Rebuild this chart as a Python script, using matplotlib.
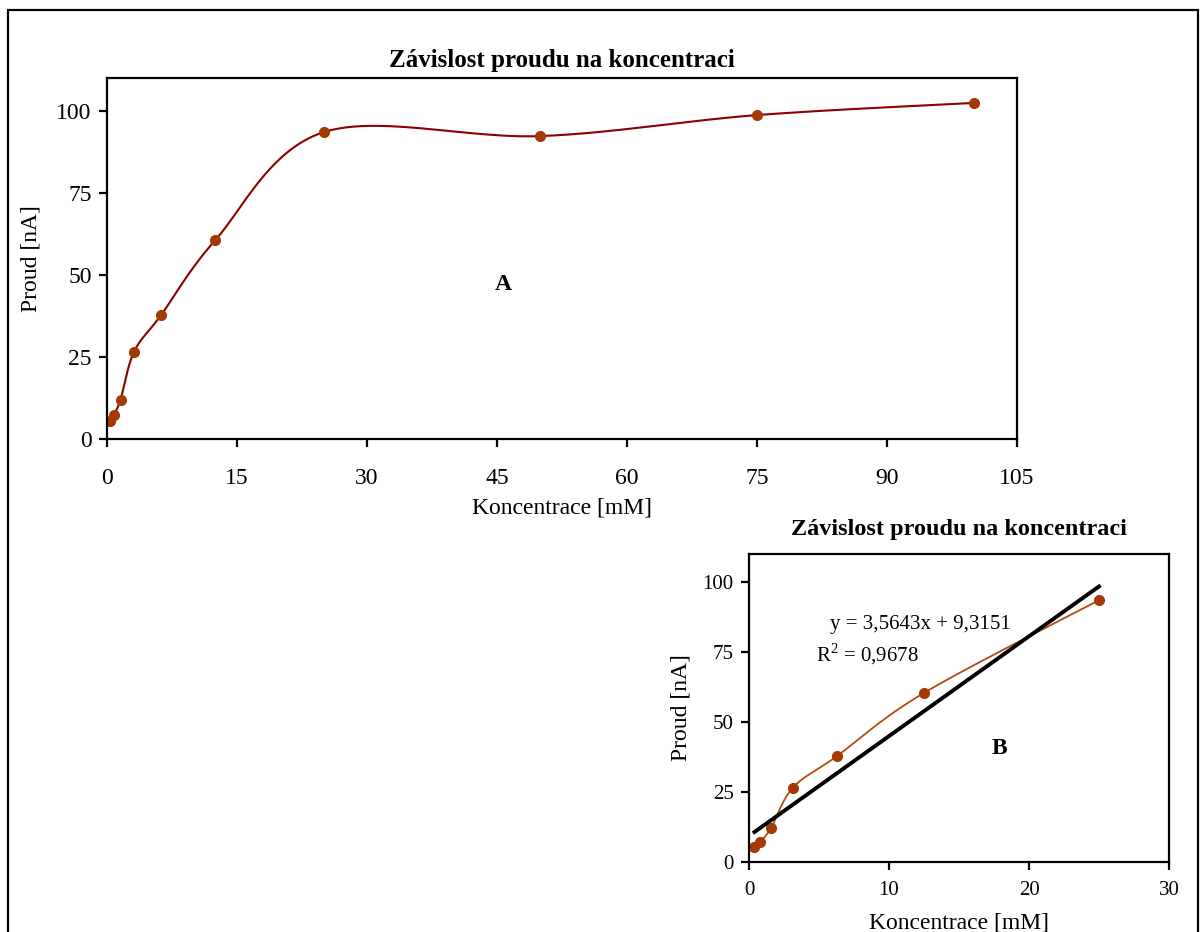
import numpy as np
import matplotlib
matplotlib.use("Agg")
import matplotlib.pyplot as plt
from matplotlib.patches import Rectangle

# data
konc = [0.39, 0.78, 1.56, 3.125, 6.25, 12.5, 25, 50, 75, 100]
proud = [5.4, 7.3, 12.0, 26.6, 37.8, 60.6, 93.5, 92.3, 98.7, 102.4]

konc_b = [0.39, 0.78, 1.56, 3.125, 6.25, 12.5, 25]
proud_b = [5.4, 7.2, 12.0, 26.5, 37.7, 60.4, 93.5]

slope = 3.5643
intercept = 9.3151
r2 = 0.9678

title = "Závislost proudu na koncentraci"
xlab = "Koncentrace [mM]"
ylab = "Proud [nA]"

plt.rcParams["font.family"] = ["Liberation Serif", "DejaVu Serif"]
plt.rcParams["mathtext.fontset"] = "custom"
plt.rcParams["mathtext.rm"] = "Liberation Serif"
plt.rcParams["axes.linewidth"] = 1.6


def smooth(xs, ys, n=30):
    # excel-like smoothed line (catmull-rom through the points)
    p = np.column_stack([xs, ys]).astype(float)
    p = np.vstack([p[0], p, p[-1]])
    out = []
    t = np.linspace(0, 1, n)[:, None]
    for i in range(1, len(p) - 2):
        p0, p1, p2, p3 = p[i - 1], p[i], p[i + 1], p[i + 2]
        c1 = p1 + (p2 - p0) / 6
        c2 = p2 - (p3 - p1) / 6
        seg = ((1 - t) ** 3) * p1 + 3 * ((1 - t) ** 2) * t * c1 + 3 * (1 - t) * t ** 2 * c2 + t ** 3 * p2
        out.append(seg)
    out = np.vstack(out)
    return out[:, 0], out[:, 1]


fig = plt.figure(figsize=(12, 9.32), dpi=100)
fig.patches.append(Rectangle((8 / 1200, -0.1), 1190 / 1200, 1 + 0.1 - 10 / 932,
                             transform=fig.transFigure, fill=False,
                             edgecolor="black", linewidth=1.6, zorder=0))

# chart A
ax = fig.add_axes([107 / 1200, 1 - 439 / 932, 910 / 1200, 361 / 932])
sx, sy = smooth(konc, proud)
ax.plot(sx, sy, color="#8b0000", linewidth=1.5)
ax.plot(konc, proud, "o", color="#a33a06", markersize=7, linestyle="none")
ax.set_xlim(0, 105)
ax.set_ylim(0, 110)
ax.set_xticks(np.arange(0, 106, 15))
ax.set_yticks([0, 25, 50, 75, 100])
ax.tick_params(axis="x", direction="out", length=6, width=1.6, labelsize=17, pad=15)
ax.tick_params(axis="y", direction="out", length=6, width=1.6, labelsize=17, pad=5)
ax.set_xlabel(xlab, fontsize=17, labelpad=6)
ax.set_ylabel(ylab, fontsize=17, labelpad=11)
ax.set_title(title, fontsize=18, fontweight="bold", pad=8)
ax.text(45.7, 47, "A", fontsize=17, fontweight="bold", ha="center", va="center")

# chart B
bx = fig.add_axes([749 / 1200, 1 - 862 / 932, 420 / 1200, 308 / 932])
sx, sy = smooth(konc_b, proud_b)
bx.plot(sx, sy, color="#b24a12", linewidth=1.3)
bx.plot(konc_b, proud_b, "o", color="#a33a06", markersize=7, linestyle="none")
fx = np.array([konc_b[0], konc_b[-1]])
bx.plot(fx, slope * fx + intercept, color="black", linewidth=2.8)
bx.set_xlim(0, 30)
bx.set_ylim(0, 110)
bx.set_xticks([0, 10, 20, 30])
bx.set_yticks([0, 25, 50, 75, 100])
bx.tick_params(axis="x", direction="out", length=6, width=1.6, labelsize=15, pad=8)
bx.tick_params(axis="y", direction="out", length=6, width=1.6, labelsize=15, pad=5)
bx.set_xlabel(xlab, fontsize=17, labelpad=9)
bx.set_ylabel(ylab, fontsize=17, labelpad=8)
bx.set_title(title, fontsize=17.5, fontweight="bold", pad=14)
bx.text(5.8, 85, "y = %s" % (("%.4fx + %.4f" % (slope, intercept)).replace(".", ",")),
        fontsize=15, ha="left", va="center")
bx.text(4.8, 74.3, "R$^2$ = %s" % ("%.4f" % r2).replace(".", ","),
        fontsize=15, ha="left", va="center")
bx.text(17.9, 40.5, "B", fontsize=17, fontweight="bold", ha="center", va="center")

plt.savefig("out.png", dpi=100)
